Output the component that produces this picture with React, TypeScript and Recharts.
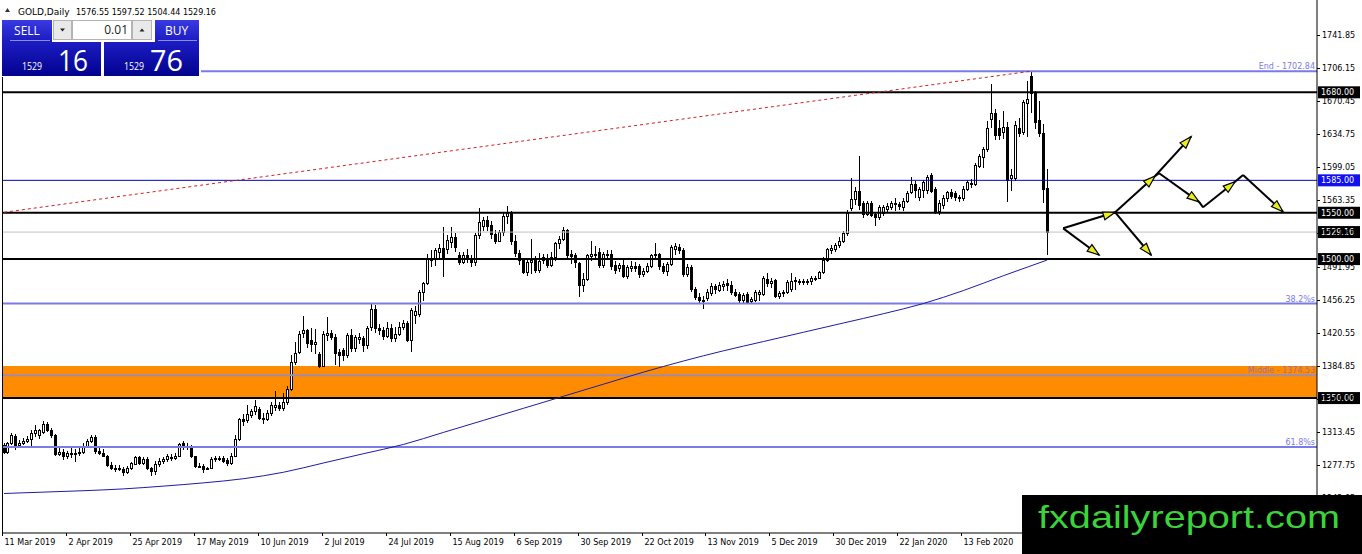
import React from 'react'
import {
  ComposedChart, Bar, Line, XAxis, YAxis, ReferenceLine, ReferenceArea,
} from 'recharts'

// daily candles as [open, high, low, close], one array per month
type Ohlc = [number, number, number, number]

const mar19: Ohlc[] = [
  [1299, 1301, 1290, 1292], [1292, 1303, 1290, 1301], [1301, 1312, 1299, 1310], [1309, 1311, 1294, 1299],
  [1299, 1305, 1297, 1302], [1302, 1307, 1299, 1304], [1304, 1309, 1301, 1306], [1306, 1316, 1297, 1312],
  [1312, 1321, 1308, 1315], [1310, 1317, 1306, 1315], [1313, 1325, 1311, 1322], [1322, 1324, 1313, 1315],
  [1315, 1318, 1307, 1310], [1310, 1311, 1288, 1290], [1290, 1296, 1288, 1292],
]
const apr19: Ohlc[] = [
  [1292, 1295, 1283, 1287], [1287, 1293, 1284, 1291], [1291, 1296, 1285, 1290], [1290, 1295, 1281, 1291],
  [1291, 1296, 1287, 1292], [1292, 1301, 1290, 1298], [1298, 1306, 1296, 1304], [1304, 1310, 1302, 1308],
  [1308, 1310, 1290, 1293], [1293, 1297, 1289, 1291], [1291, 1295, 1286, 1288], [1288, 1289, 1276, 1278],
  [1278, 1281, 1272, 1274], [1274, 1278, 1270, 1274], [1274, 1278, 1271, 1273], [1273, 1276, 1266, 1270],
  [1270, 1277, 1268, 1275], [1275, 1281, 1272, 1280], [1279, 1288, 1278, 1286], [1286, 1287, 1278, 1280],
  [1280, 1286, 1278, 1284],
]
const may19: Ohlc[] = [
  [1284, 1286, 1272, 1274], [1274, 1276, 1266, 1271], [1271, 1282, 1267, 1279], [1279, 1285, 1276, 1282],
  [1282, 1286, 1279, 1284], [1284, 1290, 1281, 1288], [1286, 1290, 1282, 1285], [1285, 1291, 1283, 1288],
  [1288, 1302, 1287, 1300], [1301, 1304, 1294, 1297], [1297, 1302, 1294, 1298], [1298, 1299, 1285, 1287],
  [1287, 1288, 1275, 1277], [1277, 1280, 1274, 1277], [1277, 1279, 1269, 1273], [1273, 1276, 1272, 1274],
  [1274, 1286, 1273, 1284], [1284, 1287, 1281, 1285], [1285, 1288, 1282, 1284], [1285, 1288, 1280, 1282],
  [1283, 1285, 1277, 1280], [1280, 1291, 1278, 1288], [1288, 1310, 1286, 1306],
]
const jun19: Ohlc[] = [
  [1306, 1329, 1304, 1327], [1327, 1333, 1320, 1325], [1326, 1343, 1323, 1333], [1332, 1338, 1328, 1336],
  [1336, 1348, 1332, 1341], [1338, 1340, 1326, 1328], [1329, 1334, 1322, 1327], [1327, 1337, 1325, 1334],
  [1334, 1346, 1331, 1342], [1340, 1358, 1336, 1342], [1342, 1346, 1336, 1339], [1339, 1355, 1336, 1346],
  [1346, 1363, 1342, 1360], [1360, 1397, 1358, 1389], [1389, 1410, 1386, 1399], [1400, 1422, 1398, 1419],
  [1420, 1439, 1415, 1423], [1423, 1425, 1404, 1409], [1413, 1426, 1400, 1408], [1408, 1424, 1398, 1410],
]
const jul19: Ohlc[] = [
  [1398, 1400, 1382, 1385], [1385, 1422, 1383, 1419], [1418, 1437, 1412, 1420], [1420, 1423, 1413, 1416],
  [1416, 1419, 1386, 1399], [1400, 1403, 1384, 1396], [1402, 1404, 1390, 1397], [1397, 1420, 1393, 1418],
  [1418, 1425, 1400, 1404], [1404, 1418, 1400, 1416], [1414, 1420, 1408, 1416], [1415, 1417, 1400, 1407],
  [1407, 1428, 1403, 1426], [1427, 1452, 1422, 1446], [1446, 1450, 1420, 1426], [1426, 1430, 1418, 1423],
  [1423, 1427, 1413, 1417], [1417, 1432, 1415, 1426], [1426, 1430, 1411, 1415], [1415, 1427, 1411, 1419],
  [1419, 1432, 1417, 1427], [1427, 1434, 1423, 1431], [1431, 1433, 1410, 1413],
]
const aug19: Ohlc[] = [
  [1413, 1447, 1400, 1445], [1440, 1449, 1430, 1444], [1441, 1467, 1438, 1464], [1464, 1475, 1455, 1474],
  [1474, 1505, 1472, 1501], [1501, 1510, 1491, 1499], [1500, 1512, 1493, 1510], [1508, 1516, 1500, 1512],
  [1512, 1535, 1481, 1502], [1511, 1526, 1505, 1521], [1518, 1535, 1512, 1524], [1524, 1528, 1508, 1513],
  [1504, 1508, 1494, 1497], [1497, 1508, 1495, 1504], [1504, 1511, 1496, 1502], [1500, 1504, 1491, 1497],
  [1497, 1528, 1492, 1526], [1526, 1555, 1522, 1540], [1536, 1545, 1530, 1542], [1542, 1547, 1530, 1536],
  [1537, 1541, 1522, 1527], [1527, 1531, 1516, 1520],
]
const sep19: Ohlc[] = [
  [1520, 1531, 1518, 1529], [1529, 1550, 1525, 1547], [1547, 1557, 1538, 1550], [1550, 1552, 1515, 1519],
  [1519, 1526, 1502, 1507], [1507, 1510, 1494, 1499], [1499, 1501, 1484, 1486], [1486, 1500, 1482, 1497],
  [1497, 1522, 1484, 1499], [1499, 1503, 1485, 1488], [1488, 1507, 1485, 1498], [1502, 1506, 1495, 1499],
  [1501, 1505, 1490, 1494], [1494, 1508, 1491, 1502], [1502, 1518, 1498, 1517], [1517, 1525, 1511, 1522],
  [1522, 1535, 1519, 1531], [1531, 1533, 1501, 1504], [1505, 1510, 1495, 1503], [1504, 1507, 1490, 1497],
  [1496, 1497, 1459, 1472],
]
const oct19: Ohlc[] = [
  [1472, 1485, 1464, 1479], [1479, 1506, 1476, 1504], [1503, 1519, 1498, 1506], [1506, 1514, 1500, 1505],
  [1508, 1512, 1490, 1494], [1494, 1508, 1490, 1505], [1504, 1510, 1499, 1506], [1506, 1510, 1488, 1493],
  [1494, 1498, 1484, 1488], [1490, 1496, 1486, 1494], [1494, 1499, 1480, 1482], [1482, 1494, 1478, 1491],
  [1490, 1498, 1486, 1493], [1493, 1497, 1486, 1490], [1492, 1495, 1480, 1484], [1484, 1490, 1481, 1487],
  [1487, 1496, 1485, 1493], [1493, 1506, 1490, 1504], [1504, 1517, 1500, 1505], [1505, 1507, 1488, 1492],
  [1493, 1496, 1484, 1487], [1487, 1497, 1482, 1495], [1495, 1515, 1493, 1513],
]
const nov19: Ohlc[] = [
  [1511, 1517, 1504, 1514], [1513, 1516, 1506, 1510], [1510, 1512, 1481, 1484], [1484, 1495, 1481, 1491],
  [1491, 1494, 1465, 1468], [1468, 1470, 1456, 1459], [1459, 1463, 1453, 1456], [1456, 1460, 1446, 1456],
  [1458, 1468, 1455, 1464], [1463, 1474, 1460, 1471], [1471, 1473, 1462, 1468], [1467, 1475, 1464, 1472],
  [1471, 1476, 1466, 1473], [1474, 1478, 1466, 1472], [1472, 1476, 1461, 1464], [1465, 1468, 1459, 1461],
  [1462, 1464, 1452, 1456], [1456, 1463, 1453, 1461], [1462, 1464, 1453, 1454], [1455, 1459, 1453, 1457],
  [1456, 1467, 1454, 1464],
]
const dec19: Ohlc[] = [
  [1462, 1467, 1455, 1465], [1462, 1482, 1460, 1480], [1478, 1485, 1470, 1474], [1474, 1480, 1469, 1476],
  [1477, 1478, 1458, 1460], [1460, 1466, 1457, 1463], [1463, 1467, 1459, 1465], [1465, 1477, 1462, 1475],
  [1468, 1485, 1464, 1476], [1476, 1481, 1467, 1477], [1476, 1479, 1472, 1476], [1476, 1479, 1472, 1475],
  [1475, 1479, 1472, 1476], [1476, 1482, 1472, 1480], [1479, 1482, 1476, 1480], [1480, 1487, 1478, 1486],
  [1486, 1502, 1484, 1499], [1499, 1512, 1497, 1511], [1510, 1515, 1506, 1512], [1511, 1517, 1508, 1515],
  [1515, 1524, 1512, 1520],
]
const jan20: Ohlc[] = [
  [1520, 1530, 1517, 1528], [1528, 1553, 1525, 1550], [1555, 1588, 1552, 1565], [1565, 1578, 1558, 1574],
  [1574, 1611, 1553, 1558], [1560, 1563, 1544, 1549], [1549, 1563, 1546, 1561], [1561, 1563, 1545, 1548],
  [1549, 1551, 1536, 1545], [1545, 1558, 1542, 1556], [1550, 1558, 1546, 1556], [1554, 1561, 1550, 1557],
  [1556, 1563, 1553, 1560], [1560, 1566, 1552, 1559], [1559, 1562, 1553, 1557], [1556, 1566, 1552, 1563],
  [1563, 1573, 1560, 1571], [1572, 1589, 1570, 1581], [1581, 1584, 1566, 1575], [1567, 1578, 1563, 1576],
  [1575, 1585, 1566, 1583], [1575, 1591, 1570, 1589],
]
const feb20: Ohlc[] = [
  [1591, 1593, 1571, 1574], [1576, 1578, 1549, 1552], [1552, 1564, 1548, 1561], [1558, 1569, 1554, 1566],
  [1566, 1574, 1562, 1572], [1572, 1576, 1565, 1568], [1571, 1573, 1563, 1567], [1567, 1569, 1562, 1566],
  [1566, 1579, 1563, 1576], [1576, 1585, 1573, 1583], [1582, 1586, 1577, 1581], [1581, 1604, 1579, 1602],
  [1601, 1613, 1598, 1611], [1610, 1621, 1598, 1619], [1619, 1649, 1616, 1642], [1651, 1689, 1642, 1658],
  [1658, 1662, 1629, 1634], [1641, 1650, 1628, 1634], [1637, 1660, 1630, 1643], [1643, 1648, 1562, 1585],
]
const mar20: Ohlc[] = [
  [1587, 1597, 1574, 1591], [1588, 1649, 1584, 1645], [1641, 1652, 1632, 1636], [1637, 1672, 1634, 1670],
  [1669, 1692, 1632, 1673], [1698, 1702.84, 1658, 1679], [1680, 1681, 1640, 1648], [1650, 1671, 1632, 1636],
  [1636, 1646, 1560, 1576], [1576.55, 1597.52, 1504.44, 1529.16],
]

const candles = [
  ...mar19, ...apr19, ...may19, ...jun19, ...jul19, ...aug19,
  ...sep19, ...oct19, ...nov19, ...dec19, ...jan20, ...feb20, ...mar20,
]
const SLOTS = 329 // bars plus the empty chart shift on the right

// 200-day moving average, read every tenth bar
const maIdx = [0, 10, 20, 30, 40, 50, 60, 70, 80, 90, 100, 110, 120, 130, 140, 150, 160, 170, 180, 190, 200, 210, 220, 230, 240, 250, 261]
const maVals = [1247, 1248.5, 1250, 1252, 1255, 1258.5, 1263, 1270, 1280, 1290, 1300, 1313, 1326, 1339, 1352, 1365, 1378, 1390, 1401, 1411, 1421, 1431, 1441, 1452, 1466, 1482, 1499]

const dateLabels = [
  '11 Mar 2019', '2 Apr 2019', '25 Apr 2019', '17 May 2019', '10 Jun 2019', '2 Jul 2019',
  '24 Jul 2019', '15 Aug 2019', '6 Sep 2019', '30 Sep 2019', '22 Oct 2019', '13 Nov 2019',
  '5 Dec 2019', '30 Dec 2019', '22 Jan 2020', '13 Feb 2020',
]
const dateIdx = [0, 16, 32, 48, 64, 80, 96, 112, 128, 144, 160, 176, 192, 208, 224, 240]

const priceTicks = [
  1242.05, 1277.75, 1313.45, 1349.15, 1384.85, 1420.55, 1456.25, 1491.95,
  1527.65, 1563.35, 1599.05, 1634.75, 1670.45, 1706.15, 1741.85,
]

const blackLevels = [1680, 1550, 1500, 1350]
const fibLevels = [
  { y: 1702.84, text: 'End - 1702.84' },
  { y: 1452.01, text: '38.2%s' },
  { y: 1297.05, text: '61.8%s' },
]
const middleLevel = 1374.53
const zone = [1350, 1384.6]
const tags = [
  { y: 1680, text: '1680.00', bg: '#000' },
  { y: 1585, text: '1585.00', bg: '#1010f0' },
  { y: 1550, text: '1550.00', bg: '#000' },
  { y: 1529.16, text: '1529.16', bg: '#000' },
  { y: 1500, text: '1500.00', bg: '#000' },
  { y: 1350, text: '1350.00', bg: '#000' },
]
const trend = [{ x: 0, y: 1550.5 }, { x: 257, y: 1702.84 }]

// projection arrows: [fromBar, fromPrice, toBar, toPrice, hasHead]
const arrows: [number, number, number, number, number][] = [
  [265, 1533.2, 274, 1504.4, 1],
  [265, 1533.2, 278, 1550.5, 1],
  [278, 1550.5, 287, 1504.4, 1],
  [278, 1550.5, 288, 1589.7, 1],
  [288, 1589.7, 289, 1592.6, 0],
  [288, 1589.7, 297, 1632.1, 1],
  [289, 1592.6, 299, 1561.7, 1],
  [299, 1561.7, 300, 1555.9, 0],
  [300, 1555.9, 308, 1583.5, 1],
  [308, 1583.5, 310, 1590.8, 0],
  [310, 1590.8, 320, 1551.1, 1],
]

const FONT = 'DejaVu Sans'

const data = Array.from({ length: SLOTS }, (_, i) => {
  const c = candles[i]
  const m = maIdx.indexOf(i)
  return {
    idx: i,
    open: c ? c[0] : null,
    high: c ? c[1] : null,
    low: c ? c[2] : null,
    close: c ? c[3] : null,
    ma: m >= 0 ? maVals[m] : null,
  }
})

function Candle(props: any) {
  const { x, y, width, height, payload } = props
  if (!payload || payload.high == null) return null
  const { open, high, low, close } = payload
  const cx = Math.floor(x + width / 2)
  const span = high - low || 1
  const toY = (p: number) => y + ((high - p) / span) * height
  const top = Math.round(toY(Math.max(open, close)))
  const bot = Math.round(toY(Math.min(open, close)))
  const up = close >= open
  return (
    <g>
      <line x1={cx + 0.5} x2={cx + 0.5} y1={Math.round(y)} y2={Math.round(y + height)} stroke="#000" />
      <rect x={cx - 0.5} y={top + 0.5} width={2} height={Math.max(bot - top, 1)}
        fill={up ? '#fff' : '#000'} stroke="#000" />
    </g>
  )
}

function PriceTick(props: any) {
  const { x, y, payload } = props
  const ty = Math.round(y) + 0.5
  return (
    <g>
      <line x1={x} x2={x + 3} y1={ty} y2={ty} stroke="#000" />
      <text x={x + 5} y={y + 3} fontSize={8} fontFamily={FONT} fill="#000">
        {Number(payload.value).toFixed(2)}
      </text>
    </g>
  )
}

function DateTick(props: any) {
  const { x, y, payload } = props
  const k = dateIdx.indexOf(payload.value)
  if (k < 0) return null
  const tx = Math.round(x) - 1.5
  return (
    <g>
      <line x1={tx} x2={tx} y1={y} y2={y + 3} stroke="#000" />
      <text x={tx + 2} y={y + 12} fontSize={8} fontFamily={FONT} fill="#000">{dateLabels[k]}</text>
    </g>
  )
}

function PriceTag(props: any) {
  const { viewBox, text, bg } = props
  if (!viewBox) return null
  const lx = viewBox.x + viewBox.width + 1
  return (
    <g>
      <rect x={lx} y={viewBox.y - 6} width={42} height={12} fill={bg} />
      <text x={lx + 3} y={viewBox.y + 3} fontSize={8} fontFamily={FONT} fill="#fff">{text}</text>
    </g>
  )
}

function LevelText(props: any) {
  const { viewBox, text, color } = props
  if (!viewBox) return null
  return (
    <text x={viewBox.x + viewBox.width - 2} y={viewBox.y - 2} textAnchor="end"
      fontSize={8} fontFamily={FONT} fill={color}>{text}</text>
  )
}

function Arrow(props: any) {
  const { x1, y1, x2, y2, head } = props
  if (x1 == null) return null
  const dx = x2 - x1, dy = y2 - y1
  const len = Math.hypot(dx, dy) || 1
  const ux = dx / len, uy = dy / len
  const L = 12, hw = 4
  const bx = x2 - ux * L, by = y2 - uy * L
  const pts = `${x2},${y2} ${bx - uy * hw},${by + ux * hw} ${bx + uy * hw},${by - ux * hw}`
  return (
    <g>
      <line x1={x1} y1={y1} x2={x2} y2={y2} stroke="#000" strokeWidth={2} />
      {head ? <polygon points={pts} fill="#e8ee1c" stroke="#000" strokeWidth={1.2} /> : null}
    </g>
  )
}

function Overlay() {
  return (
    <svg width={1362} height={554} style={{ position: 'absolute', left: 0, top: 0, pointerEvents: 'none' }}>
      <defs>
        <linearGradient id="hdr" x1="0" y1="0" x2="0" y2="1">
          <stop offset="0" stopColor="#3a3ae4" />
          <stop offset="1" stopColor="#1a1abf" />
        </linearGradient>
        <linearGradient id="low" x1="0" y1="0" x2="0" y2="1">
          <stop offset="0" stopColor="#1c1cc4" />
          <stop offset="1" stopColor="#02028e" />
        </linearGradient>
      </defs>
      <line x1={2.5} x2={2.5} y1={0} y2={533} stroke="#000" />
      <rect x={0} y={0} width={230} height={18} fill="#fff" />
      <polygon points="5,12 10,12 7.5,8" fill="#333" />
      <text x={18} y={15} fontSize={9} fontFamily={FONT} fill="#000">GOLD,Daily</text>
      <text x={76} y={15} fontSize={8} fontFamily={FONT} fill="#000">1576.55 1597.52 1504.44 1529.16</text>
      <rect x={0} y={18} width={201} height={59} fill="#fff" />
      <rect x={2} y={20} width={50} height={22} fill="url(#hdr)" />
      <rect x={155} y={20} width={44} height={22} fill="url(#hdr)" />
      <rect x={2} y={42} width={99} height={34} fill="url(#low)" />
      <rect x={104} y={42} width={95} height={34} fill="url(#low)" />
      <line x1={10} x2={50} y1={40.5} y2={40.5} stroke="#8c8cf0" />
      <line x1={158} x2={197} y1={40.5} y2={40.5} stroke="#8c8cf0" />
      <rect x={53.5} y={20.5} width={18} height={19} fill="#e9e9e9" stroke="#b4b4b4" />
      <polygon points="60,28.5 65,28.5 62.5,31.5" fill="#222" />
      <rect x={72.5} y={20.5} width={59} height={19} fill="#fff" stroke="#b4b4b4" />
      <text x={128} y={34} textAnchor="end" fontSize={12} fontFamily="Open Sans" fill="#222">0.01</text>
      <rect x={132.5} y={20.5} width={19} height={19} fill="#e9e9e9" stroke="#b4b4b4" />
      <polygon points="139.5,31.5 144.5,31.5 142,28.5" fill="#222" />
      <text x={27} y={35} textAnchor="middle" fontSize={12} fontFamily="Open Sans" fill="#fff">SELL</text>
      <text x={176.5} y={35} textAnchor="middle" fontSize={12} fontFamily="Open Sans" fill="#fff">BUY</text>
      <text x={22} y={70} fontSize={10} fontFamily="Open Sans" fill="#fff"
        textLength={20} lengthAdjust="spacingAndGlyphs">1529</text>
      <text x={58} y={71} fontSize={30} fontFamily="Open Sans" fill="#fff"
        textLength={30} lengthAdjust="spacingAndGlyphs">16</text>
      <text x={124} y={70} fontSize={10} fontFamily="Open Sans" fill="#fff"
        textLength={20} lengthAdjust="spacingAndGlyphs">1529</text>
      <text x={150} y={71} fontSize={30} fontFamily="Open Sans" fill="#fff"
        textLength={33} lengthAdjust="spacingAndGlyphs">76</text>
      <rect x={1022} y={495} width={340} height={59} fill="#000" />
      <text x={1038} y={528} fontSize={32} fontFamily="Liberation Sans" fill="#3ad43a"
        textLength={302} lengthAdjust="spacingAndGlyphs">fxdailyreport.com</text>
    </svg>
  )
}

export default function App() {
  return (
    <div style={{ position: 'relative', width: 1362, height: 554, background: '#fff' }}>
      <style>{'body{margin:0;background:#fff}'}</style>
      <ComposedChart width={1362} height={554} data={data}
        margin={{ top: 0, right: 0, bottom: 0, left: 2 }} barCategoryGap={0} barGap={0}>
        <XAxis dataKey="idx" interval={15} height={21} tickSize={0} tickMargin={0}
          tickLine={false} axisLine={{ stroke: '#000' }} tick={<DateTick />} />
        <YAxis orientation="right" type="number" width={45} domain={[1204.36, 1779.63]}
          allowDataOverflow ticks={priceTicks} interval={0} tickSize={0} tickMargin={0}
          tickLine={false} axisLine={{ stroke: '#000' }} tick={<PriceTick />} />
        <ReferenceArea y1={zone[0]} y2={zone[1]} fill="#ff8c00" fillOpacity={1} stroke="none" />
        <ReferenceLine y={middleLevel} stroke="#a08ca8" strokeWidth={2}
          label={<LevelText text="Middle - 1374.53" color="#a0709c" />} />
        {fibLevels.map(f => (
          <ReferenceLine key={f.y} y={f.y} stroke="#7b7be8" strokeWidth={2}
            label={<LevelText text={f.text} color="#7b7be8" />} />
        ))}
        <ReferenceLine y={1585} stroke="#0000c8" strokeWidth={1} />
        <ReferenceLine y={1529.16} stroke="#c0c0c0" strokeWidth={1} />
        {blackLevels.map(v => (
          <ReferenceLine key={v} y={v} stroke="#000" strokeWidth={2} />
        ))}
        <ReferenceLine segment={trend} stroke="#d42020" strokeDasharray="3 3" strokeWidth={1} />
        <Line dataKey="ma" type="monotone" connectNulls dot={false} activeDot={false}
          stroke="#1c1ca8" strokeWidth={1} isAnimationActive={false} />
        <Bar dataKey={(d: any) => (d.low == null ? null : [d.low, d.high])}
          shape={(p: any) => <Candle {...p} />} isAnimationActive={false} />
        {arrows.map((a, i) => (
          <ReferenceLine key={'a' + i} segment={[{ x: a[0], y: a[1] }, { x: a[2], y: a[3] }]}
            stroke="#000" shape={(p: any) => <Arrow {...p} head={a[4]} />} />
        ))}
        {tags.map(t => (
          <ReferenceLine key={'t' + t.y} y={t.y} stroke="none"
            label={<PriceTag text={t.text} bg={t.bg} />} />
        ))}
      </ComposedChart>
      <Overlay />
    </div>
  )
}
